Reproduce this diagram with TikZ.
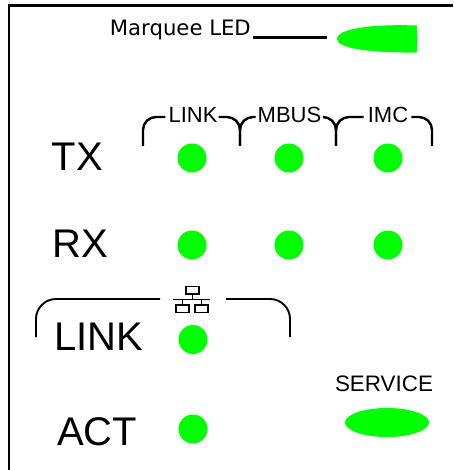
\documentclass[tikz,border=0pt]{standalone}
\usepackage{fontspec}
\setmainfont{Liberation Sans}
\newfontfamily\verdanafont{DejaVu Sans}
\usetikzlibrary{positioning,shapes.geometric}

\begin{document}
\begin{tikzpicture}[
  x=1pt, y=-1pt,
  led/.style={circle, fill=ledgreen, inner sep=0pt, minimum size=29pt},
  oval/.style={ellipse, fill=ledgreen, inner sep=0pt, minimum width=84pt, minimum height=29pt},
  biglabel/.style={inner sep=0pt, font=\fontsize{40}{40}\selectfont},
  smalllabel/.style={inner sep=0pt, font=\fontsize{22}{22}\selectfont},
  frameline/.style={line width=2.4pt},
  brace/.style={line width=2.4pt, rounded corners=13pt},
  wide/.style={line width=1.9pt, rounded corners=20pt},
  iconbox/.style={draw, line width=1.5pt, inner sep=0pt, minimum width=13pt, minimum height=7.5pt},
  icon/.style={line width=1.5pt}
]
  \definecolor{ledgreen}{RGB}{0,255,0}
  \useasboundingbox (0,0) rectangle (453,470);

  % frame
  \coordinate (frameend) at (453,5.5);
  \coordinate (framecorner) at (9,5.5);
  \coordinate (framefoot) at (9,470);
  \draw[frameline] (frameend) -- (framecorner) -- (framefoot);

  % marquee
  \node[inner sep=0pt, anchor=east, font=\verdanafont\fontsize{21.2}{21.2}\selectfont] (marquee) at (251,30) {Marquee LED};
  \fill[ledgreen] (416.7,25.5) .. controls (375,24) and (337,28) .. (337,39)
    .. controls (337,49) and (375,53) .. (416.7,52.5)
    .. controls (417.5,44) and (417.5,34) .. (416.7,25.5) -- cycle;
  \coordinate (marqueeled) at (327,37.5);
  \coordinate (marqueestart) at (253,37.5);
  \draw[line width=3pt] (marqueestart) -- (marqueeled);

  % leds
  \foreach \name/\ledx/\ledy in {txa/192/158, txb/289/158, txc/388/158,
                                 rxa/192/245, rxb/289/245, rxc/388/245,
                                 lnk/193/339.5, act/193/429}
    \node[led] (\name) at (\ledx,\ledy) {};

  % row labels
  \node[biglabel] (tx) at (77.5,157) {TX};
  \node[biglabel] (rx) at (80,244) {RX};
  \node[biglabel] (linklabel) at (98.5,337) {LINK};
  \node[biglabel] (actlabel) at (97,432) {ACT};

  % top braces
  \node[smalllabel] (link) at (193,115) {LINK};
  \node[smalllabel] (mbus) at (289.5,115) {MBUS};
  \node[smalllabel] (imc) at (388,115) {IMC};
  \coordinate (t0) at (143,146);
  \coordinate (t1) at (240,146);
  \coordinate (t2) at (336,146);
  \coordinate (t3) at (432,146);
  \draw[brace] (t0) -- (143,117) -- ([xshift=-3pt]link.west |- 0,117);
  \draw[brace] ([xshift=1pt]link.east |- 0,117) -- (240,117) -- (t1);
  \draw[brace] (t1) -- (240,117) -- ([xshift=-2pt]mbus.west |- 0,117);
  \draw[brace] ([xshift=2pt]mbus.east |- 0,117) -- (336,117) -- (t2);
  \draw[brace] (t2) -- (336,117) -- ([xshift=-4pt]imc.west |- 0,117);
  \draw[brace] ([xshift=3pt]imc.east |- 0,117) -- (432,117) -- (t3);

  % link group
  \coordinate (g0) at (36,337);
  \coordinate (g1) at (160,299);
  \coordinate (g2) at (226,299);
  \coordinate (g3) at (290,337);
  \draw[wide] (g0) -- (36,299) -- (g1);
  \draw[wide] (g2) -- (290,299) -- (g3);

  % network icon
  \node[iconbox] (hub) at (192.5,290) {};
  \node[iconbox] (hosta) at (182.5,308.5) {};
  \node[iconbox] (hostb) at (201.5,308.5) {};
  \coordinate (busl) at (173,299.5);
  \coordinate (busr) at (210,299.5);
  \draw[icon] (busl) -- (busr);
  \draw[icon] (hub) -- (hub |- busl);
  \draw[icon] (hosta) -- (hosta |- busl);
  \draw[icon] (hostb) -- (hostb |- busl);

  % service
  \node[smalllabel, font=\fontsize{22.4}{22.4}\selectfont] (service) at (384,384) {SERVICE};
  \node[oval] (serviceled) at (387,422.5) {};
\end{tikzpicture}
\end{document}
